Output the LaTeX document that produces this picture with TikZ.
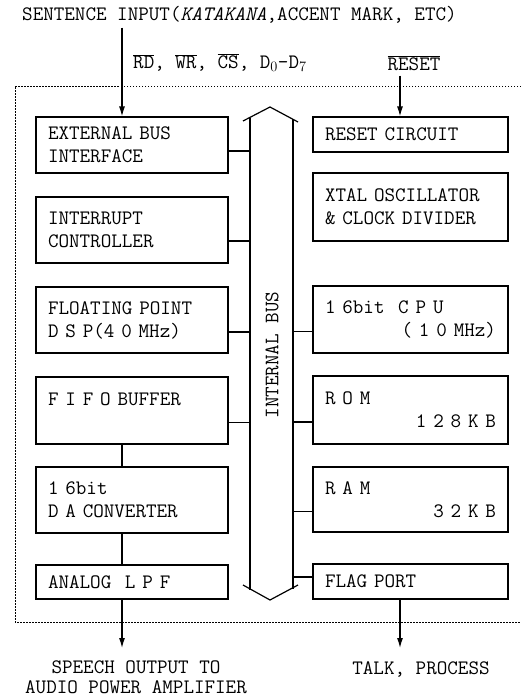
\documentclass[tikz,border=0pt]{standalone}
\usetikzlibrary{arrows.meta}

\begin{document}
\begin{tikzpicture}[
  x=1pt, y=-1pt,
  every node/.style={font=\fontsize{20.5}{23}\selectfont\ttfamily, inner sep=0pt},
  blk/.style={draw, line width=1.2pt, rectangle, align=left, inner xsep=12pt, inner ysep=0pt},
  lblk/.style={blk, text width=168pt},
  rblk/.style={blk, text width=171pt},
  wire/.style={line width=1.2pt},
  sig/.style={line width=1.2pt, -{Latex[length=10pt,width=6pt]}}
]
\useasboundingbox (0,0) rectangle (521,699);
% Dotted frame of the chip
\draw[line width=0.9pt, dash pattern=on 1.5pt off 1.5pt] (521,86) -- (15,86) -- (15,622) -- (521,622);
% Left column
\foreach \nm/\yy/\hh/\txt in {
  ext/145/56/{EXTERNAL BUS\\INTERFACE},
  intc/230/66/{INTERRUPT\\CONTROLLER},
  dsp/320/66/{FLOATING POINT\\D S P(4 0 MHz)},
  fifo/410.5/67/{F I F O BUFFER\\\mbox{}},
  dac/500/66/{1 6bit\\D A CONVERTER},
  lpf/582/34/{ANALOG\ \ L P F}}{
  \node[lblk, minimum height=\hh pt] (\nm) at (132,\yy) {\txt};
}
% Right column
\foreach \nm/\yy/\hh/\txt in {
  rst/134.5/35/{RESET CIRCUIT},
  xtal/207/68/{XTAL OSCILLATOR\\\& CLOCK DIVIDER},
  cpu/319.5/67/{1 6bit\ \ C P U\\\hspace*{\fill}( 1 0 MHz)},
  rom/410/68/{R O M\\\hspace*{\fill}1 2 8 K B},
  ram/499.5/65/{R A M\\\hspace*{\fill}3 2 K B},
  flag/581.5/35/{FLAG PORT}}{
  \node[rblk, minimum height=\hh pt] (\nm) at (410.5,\yy) {\txt};
}
% Internal bus
\coordinate (busL) at (250,0);
\coordinate (busR) at (293,0);
\draw[wire] (243,121) -- (270,107) -- (298,122);
\draw[wire] (243,585) -- (270,600) -- (298,585);
\draw[wire] (250,118) -- (250,590);
\draw[wire] (293,119) -- (293,589);
\node[rotate=90] (bus) at (272,355) {INTERNAL BUS};
\foreach \nm/\dy in {ext/-6pt,intc/-11pt,dsp/-12pt,fifo/-12pt}
  \draw[wire] ([yshift=\dy]\nm.east) coordinate (c\nm) -- (c\nm -| busL);
\foreach \nm/\dy in {cpu/-12pt,rom/-12pt,ram/-12pt,flag/4.5pt}
  \draw[wire] ([yshift=\dy]\nm.west) coordinate (c\nm) -- (c\nm -| busR);
% Signals in and out
\coordinate (colL) at (122,0);
\coordinate (colR) at (400,0);
\node[anchor=west, inner ysep=4pt] (sin) at (22,15) {SENTENCE INPUT(\textit{KATAKANA},ACCENT MARK, ETC)};
\node[anchor=west] (ctl) at (133,63) {$\overline{\mbox{RD}}$, $\overline{\mbox{WR}}$, $\overline{\mbox{CS}}$, D$_0$-D$_7$};
\node[inner ysep=5pt] (rsl) at (414,63) {$\overline{\mbox{RESET}}$};
\draw[sig] (sin.south -| colL) -- (ext.north -| colL);
\draw[sig] (rsl.south -| colR) -- (rst.north -| colR);
\draw[wire] (fifo.south -| colL) -- (dac.north -| colL);
\draw[wire] (dac.south -| colL) -- (lpf.north -| colL);
\node[anchor=north, align=center, inner ysep=13pt, font=\fontsize{20.5}{20}\selectfont\ttfamily] (spk) at (136,648) {SPEECH OUTPUT TO\\AUDIO POWER AMPLIFIER};
\node[anchor=north, inner ysep=13pt] (talk) at (421,648) {TALK, PROCESS};
\draw[sig] (lpf.south -| colL) -- (spk.north -| colL);
\draw[sig] (flag.south -| colR) -- (talk.north -| colR);
\end{tikzpicture}
\end{document}
